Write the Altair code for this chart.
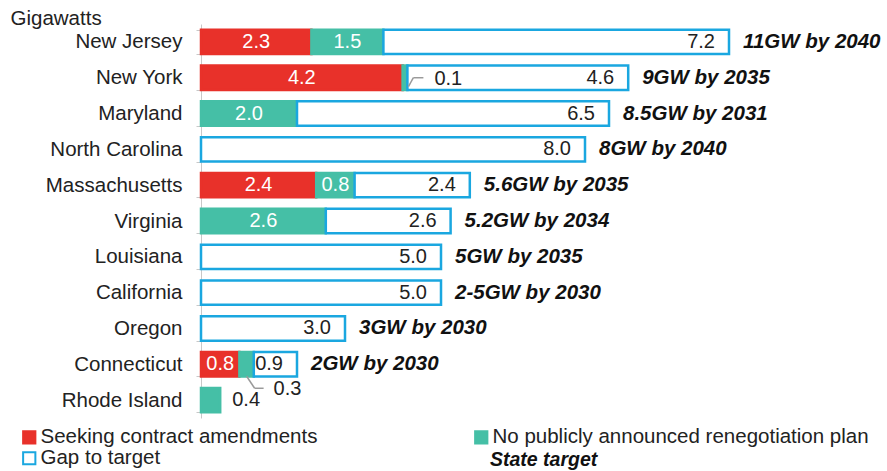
import altair as alt
import pandas as pd

# ---- data ----
states = ["New Jersey", "New York", "Maryland", "North Carolina", "Massachusetts",
          "Virginia", "Louisiana", "California", "Oregon", "Connecticut", "Rhode Island"]
amend = [2.3, 4.2, 0.0, 0.0, 2.4, 0.0, 0.0, 0.0, 0.0, 0.8, 0.0]
noplan = [1.5, 0.1, 2.0, 0.0, 0.8, 2.6, 0.0, 0.0, 0.0, 0.3, 0.4]
gap = [7.2, 4.6, 6.5, 8.0, 2.4, 2.6, 5.0, 5.0, 3.0, 0.9, 0.0]
targets = ["11GW by 2040", "9GW by 2035", "8.5GW by 2031", "8GW by 2040", "5.6GW by 2035",
           "5.2GW by 2034", "5GW by 2035", "2-5GW by 2030", "3GW by 2030", "2GW by 2030", ""]
series_names = ["Seeking contract amendments", "No publicly announced renegotiation plan", "Gap to target"]

fills = ["#E8312A", "#45BFA6", "#FFFFFF"]
strokes = ["#E8312A", "#45BFA6", "#1AA7E0"]
FONT = "Liberation Sans"
FS = 20
AFS = 20.5

# ---- tables built from the arrays ----
rows = []
for i, s in enumerate(states):
    vals = [amend[i], noplan[i], gap[i]]
    start = 0.0
    for k, v in enumerate(vals):
        if v > 0:
            rows.append(dict(state=s, series=series_names[k], x0=start, x1=start + v,
                             mid=start + v / 2, value=v, label=f"{v:.1f}", kind=k))
        start += v
seg = pd.DataFrame(rows)

tot = pd.DataFrame(dict(state=states,
                        total=[a + b + c for a, b, c in zip(amend, noplan, gap)],
                        target=targets))
tot = tot[tot["target"] != ""]

inside = seg[(seg["kind"] < 2) & (seg["value"] >= 0.5)]
gaps = seg[seg["kind"] == 2]
ny = seg[(seg["state"] == "New York") & (seg["kind"] == 1)]
ct = seg[(seg["state"] == "Connecticut") & (seg["kind"] == 1)]
ri = seg[(seg["state"] == "Rhode Island") & (seg["kind"] == 1)]

yscale = alt.Scale(domain=states, paddingInner=0.32, paddingOuter=0.16)
xscale = alt.Scale(domain=[0, 11], nice=False, zero=True)

y_axis = alt.Axis(title="Gigawatts", titleAngle=0, titleAlign="left", titleBaseline="middle",
                  titleX=-191, titleY=-6, titleFont=FONT, titleFontSize=AFS, titleFontWeight="normal",
                  titleColor="#222", labelFont=FONT, labelFontSize=AFS, labelColor="#222",
                  labelPadding=14, tickSize=5, tickBand="extent", tickColor="#c8c8c8",
                  domainColor="#c8c8c8", domainWidth=1)
Y = alt.Y("state:N", sort=states, scale=yscale, axis=y_axis)

leg = alt.Legend(orient="none", legendX=-182, legendY=403, columns=2, direction="horizontal",
                 columnPadding=153, rowPadding=0, symbolType="square", symbolSize=150,
                 symbolStrokeWidth=2, labelFont=FONT, labelFontSize=20.5, labelColor="#222",
                 labelLimit=700, labelOffset=1, title=None, padding=0)

bars = alt.Chart(seg).mark_bar(strokeWidth=2.5).encode(
    y=Y,
    x=alt.X("x0:Q", scale=xscale, axis=None),
    x2="x1:Q",
    fill=alt.Fill("series:N", scale=alt.Scale(domain=series_names, range=fills), legend=leg),
    stroke=alt.Stroke("series:N", scale=alt.Scale(domain=series_names, range=strokes), legend=leg),
)

in_lbl = alt.Chart(inside).mark_text(font=FONT, fontSize=FS, color="white", align="center",
                                     baseline="middle").encode(
    y=Y, x=alt.X("mid:Q", scale=xscale, axis=None), text="label:N")

gap_lbl = alt.Chart(gaps).mark_text(font=FONT, fontSize=FS, color="#222", align="right",
                                    baseline="middle", dx=-14).encode(
    y=Y, x=alt.X("x1:Q", scale=xscale, axis=None), text="label:N")

tgt_lbl = alt.Chart(tot).mark_text(font=FONT, fontSize=20.5, color="#111", align="left",
                                   baseline="middle", dx=14, fontWeight="bold",
                                   fontStyle="italic").encode(
    y=Y, x=alt.X("total:Q", scale=xscale, axis=None), text="target:N")

LC = "#9a9a9a"
# New York leader (from bottom of the thin teal slice up to the label)
ny_diag = alt.Chart(ny).mark_rule(color=LC, strokeWidth=1.5, yOffset=9, xOffset=1,
                                  y2Offset=0, x2Offset=6).encode(
    y=Y, y2="state:N", x=alt.X("x1:Q", scale=xscale, axis=None), x2="x1:Q")
ny_h = alt.Chart(ny).mark_rule(color=LC, strokeWidth=1.5, xOffset=6, x2Offset=16).encode(
    y=Y, x=alt.X("x1:Q", scale=xscale, axis=None), x2="x1:Q")
ny_lbl = alt.Chart(ny).mark_text(font=FONT, fontSize=FS, color="#222", align="left",
                                 baseline="middle", dx=27, dy=1).encode(
    y=Y, x=alt.X("x1:Q", scale=xscale, axis=None), text="label:N")

# Connecticut leader (from bottom of the teal slice down to the label)
ct_diag = alt.Chart(ct).mark_rule(color=LC, strokeWidth=1.5, yOffset=12, y2Offset=24,
                                  x2Offset=8).encode(
    y=Y, y2="state:N", x=alt.X("mid:Q", scale=xscale, axis=None), x2="mid:Q")
ct_h = alt.Chart(ct).mark_rule(color=LC, strokeWidth=1.5, yOffset=24, xOffset=8,
                               x2Offset=17).encode(
    y=Y, x=alt.X("mid:Q", scale=xscale, axis=None), x2="mid:Q")
ct_lbl = alt.Chart(ct).mark_text(font=FONT, fontSize=FS, color="#222", align="left",
                                 baseline="middle", dx=27, dy=25).encode(
    y=Y, x=alt.X("mid:Q", scale=xscale, axis=None), text="label:N")

ri_lbl = alt.Chart(ri).mark_text(font=FONT, fontSize=FS, color="#222", align="left",
                                 baseline="middle", dx=12).encode(
    y=Y, x=alt.X("x1:Q", scale=xscale, axis=None), text="label:N")

state_tgt = alt.Chart(pd.DataFrame({"t": ["State target"]})).mark_text(
    font=FONT, fontSize=19.5, color="#111", align="left", baseline="middle",
    fontWeight="bold", fontStyle="italic").encode(
    x=alt.value(289), y=alt.value(436), text="t:N")

chart = alt.layer(bars, in_lbl, gap_lbl, tgt_lbl, ny_diag, ny_h, ny_lbl,
                  ct_diag, ct_h, ct_lbl, ri_lbl, state_tgt).properties(
    width=528, height=394,
    padding={"left": 201, "top": 24, "right": 158, "bottom": 53},
    autosize=alt.AutoSizeParams(type="none"),
    background="white",
).configure_view(stroke=None)

chart.save("out.html", embed_options={"renderer": "svg", "actions": False})
